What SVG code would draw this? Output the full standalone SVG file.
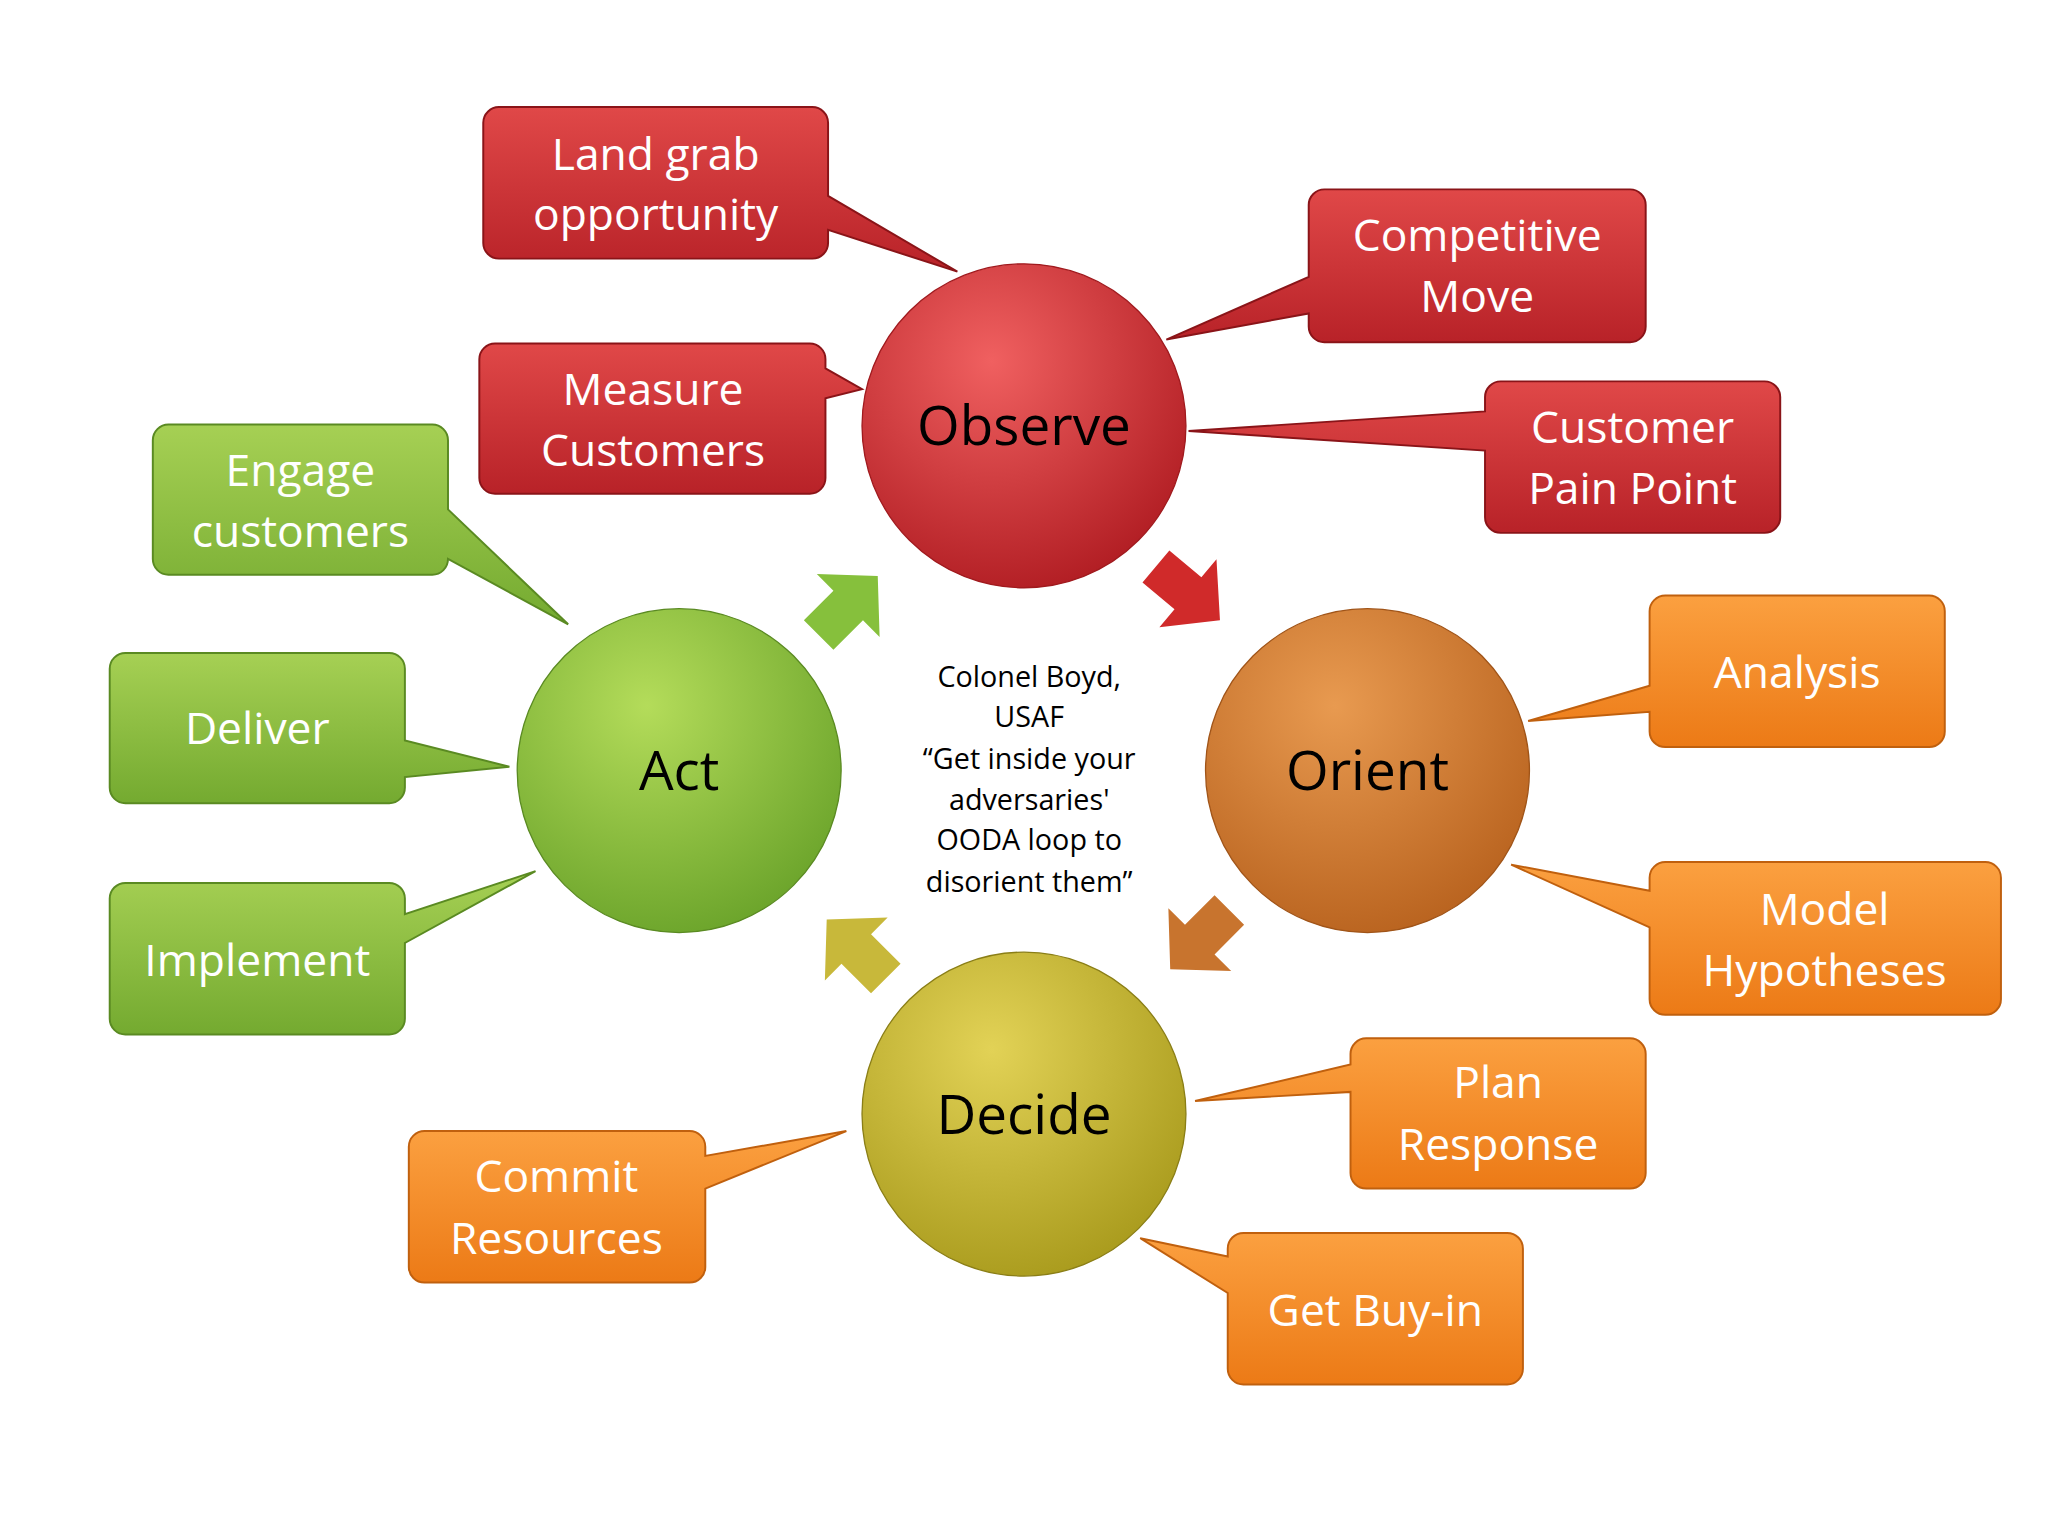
<svg xmlns="http://www.w3.org/2000/svg" width="2048" height="1536" viewBox="0 0 2048 1536">
<defs>
<radialGradient id="gr" cx="0.4" cy="0.3" r="0.75"><stop offset="0" stop-color="#f06060"/><stop offset="1" stop-color="#b01c22"/></radialGradient>
<radialGradient id="go" cx="0.4" cy="0.3" r="0.75"><stop offset="0" stop-color="#e89a50"/><stop offset="1" stop-color="#b8621e"/></radialGradient>
<radialGradient id="gy" cx="0.4" cy="0.3" r="0.75"><stop offset="0" stop-color="#e2d256"/><stop offset="1" stop-color="#a89a1c"/></radialGradient>
<radialGradient id="gg" cx="0.4" cy="0.3" r="0.75"><stop offset="0" stop-color="#b4dc5a"/><stop offset="1" stop-color="#6aa32a"/></radialGradient>
<linearGradient id="lr" x1="0" y1="0" x2="0" y2="1"><stop offset="0" stop-color="#e04848"/><stop offset="1" stop-color="#b82228"/></linearGradient>
<linearGradient id="lo" x1="0" y1="0" x2="0" y2="1"><stop offset="0" stop-color="#fba040"/><stop offset="1" stop-color="#ec7a16"/></linearGradient>
<linearGradient id="lg" x1="0" y1="0" x2="0" y2="1"><stop offset="0" stop-color="#a6d054"/><stop offset="1" stop-color="#74aa30"/></linearGradient>
<polygon id="ar" points="-30,-16 2,-16 2,-34 34,0 2,34 2,16 -30,16"/>
<style>
.ct{font-family:"Open Sans","Liberation Sans",sans-serif;font-size:34px;fill:#fff;text-anchor:middle}
.nt{font-family:"Open Sans","Liberation Sans",sans-serif;font-size:42px;fill:#000;text-anchor:middle}
.mt{font-family:"Open Sans","Liberation Sans",sans-serif;font-size:22px;fill:#000;text-anchor:middle}
.r{stroke:#8a1418;stroke-width:1.5}
.o{stroke:#c0600e;stroke-width:1.5}
.g{stroke:#5a8a22;stroke-width:1.5}
</style>
</defs>
<rect width="2048" height="1536" fill="#fff"/>
<g transform="scale(1.3061)">
<g id="connectors">
<use href="#ar" fill="#d02a2a" transform="translate(908,453) rotate(40)"/>
<use href="#ar" fill="#c8742e" transform="translate(920,718) rotate(135)"/>
<use href="#ar" fill="#c8b83a" transform="translate(657,728) rotate(-135)"/>
<use href="#ar" fill="#86c03c" transform="translate(648,465) rotate(-45)"/>
</g>
<g id="observe"><circle cx="784" cy="326" r="124" fill="url(#gr)" stroke="#a01a1e"/><text class="nt" x="784" y="341">Observe</text></g>
<g id="orient"><circle cx="1047" cy="590" r="124" fill="url(#go)" stroke="#a05418"/><text class="nt" x="1047" y="605">Orient</text></g>
<g id="decide"><circle cx="784" cy="853" r="124" fill="url(#gy)" stroke="#8a7e16"/><text class="nt" x="784" y="868">Decide</text></g>
<g id="act"><circle cx="520" cy="590" r="124" fill="url(#gg)" stroke="#5a8a22"/><text class="nt" x="520" y="605">Act</text></g>
<g id="center"><text class="mt"><tspan x="788" y="526">Colonel Boyd,</tspan><tspan x="788" y="557">USAF</tspan><tspan x="788" y="589">“Get inside your</tspan><tspan x="788" y="620">adversaries'</tspan><tspan x="788" y="651">OODA loop to</tspan><tspan x="788" y="683">disorient them”</tspan></text></g>

<g id="landgrab"><path class="r" fill="url(#lr)" d="M382,82H622a12,12 0 0 1 12,12V150L733,208L634,176V186a12,12 0 0 1 -12,12H382a12,12 0 0 1 -12,-12V94a12,12 0 0 1 12,-12Z"/><text class="ct"><tspan x="502" y="130">Land grab</tspan><tspan x="502" y="176">opportunity</tspan></text></g>
<g id="measure"><path class="r" fill="url(#lr)" d="M379,263H620a12,12 0 0 1 12,12V282L660,298L632,305V366a12,12 0 0 1 -12,12H379a12,12 0 0 1 -12,-12V275a12,12 0 0 1 12,-12Z"/><text class="ct"><tspan x="500" y="310">Measure</tspan><tspan x="500" y="357">Customers</tspan></text></g>
<g id="competitive"><path class="r" fill="url(#lr)" d="M1014,145H1248a12,12 0 0 1 12,12V250a12,12 0 0 1 -12,12H1014a12,12 0 0 1 -12,-12V240L893,260L1002,212V157a12,12 0 0 1 12,-12Z"/><text class="ct"><tspan x="1131" y="192">Competitive</tspan><tspan x="1131" y="239">Move</tspan></text></g>
<g id="painpoint"><path class="r" fill="url(#lr)" d="M1149,292H1351a12,12 0 0 1 12,12V396a12,12 0 0 1 -12,12H1149a12,12 0 0 1 -12,-12V345L910,330L1137,315V304a12,12 0 0 1 12,-12Z"/><text class="ct"><tspan x="1250" y="339">Customer</tspan><tspan x="1250" y="386">Pain Point</tspan></text></g>
<g id="engage"><path class="g" fill="url(#lg)" d="M129,325H331a12,12 0 0 1 12,12V390L435,478L343,428V428a12,12 0 0 1 -12,12H129a12,12 0 0 1 -12,-12V337a12,12 0 0 1 12,-12Z"/><text class="ct"><tspan x="230" y="372">Engage</tspan><tspan x="230" y="419">customers</tspan></text></g>
<g id="deliver"><path class="g" fill="url(#lg)" d="M96,500H298a12,12 0 0 1 12,12V567L390,587L310,595V603a12,12 0 0 1 -12,12H96a12,12 0 0 1 -12,-12V512a12,12 0 0 1 12,-12Z"/><text class="ct" x="197" y="570">Deliver</text></g>
<g id="implement"><path class="g" fill="url(#lg)" d="M96,676H298a12,12 0 0 1 12,12V700L410,667L310,722V780a12,12 0 0 1 -12,12H96a12,12 0 0 1 -12,-12V688a12,12 0 0 1 12,-12Z"/><text class="ct" x="197" y="747">Implement</text></g>
<g id="analysis"><path class="o" fill="url(#lo)" d="M1275,456H1477a12,12 0 0 1 12,12V560a12,12 0 0 1 -12,12H1275a12,12 0 0 1 -12,-12V545L1170,552L1263,525V468a12,12 0 0 1 12,-12Z"/><text class="ct" x="1376" y="527">Analysis</text></g>
<g id="model"><path class="o" fill="url(#lo)" d="M1275,660H1520a12,12 0 0 1 12,12V765a12,12 0 0 1 -12,12H1275a12,12 0 0 1 -12,-12V710L1157,662L1263,682V672a12,12 0 0 1 12,-12Z"/><text class="ct"><tspan x="1397" y="708">Model</tspan><tspan x="1397" y="755">Hypotheses</tspan></text></g>
<g id="plan"><path class="o" fill="url(#lo)" d="M1046,795H1248a12,12 0 0 1 12,12V898a12,12 0 0 1 -12,12H1046a12,12 0 0 1 -12,-12V836L915,843L1034,815V807a12,12 0 0 1 12,-12Z"/><text class="ct"><tspan x="1147" y="841">Plan</tspan><tspan x="1147" y="888">Response</tspan></text></g>
<g id="buyin"><path class="o" fill="url(#lo)" d="M952,944H1154a12,12 0 0 1 12,12V1048a12,12 0 0 1 -12,12H952a12,12 0 0 1 -12,-12V990L873,948L940,962V956a12,12 0 0 1 12,-12Z"/><text class="ct" x="1053" y="1015">Get Buy-in</text></g>
<g id="commit"><path class="o" fill="url(#lo)" d="M325,866H528a12,12 0 0 1 12,12V885L648,866L540,910V970a12,12 0 0 1 -12,12H325a12,12 0 0 1 -12,-12V878a12,12 0 0 1 12,-12Z"/><text class="ct"><tspan x="426" y="913">Commit</tspan><tspan x="426" y="960">Resources</tspan></text></g>
</g>
</svg>
